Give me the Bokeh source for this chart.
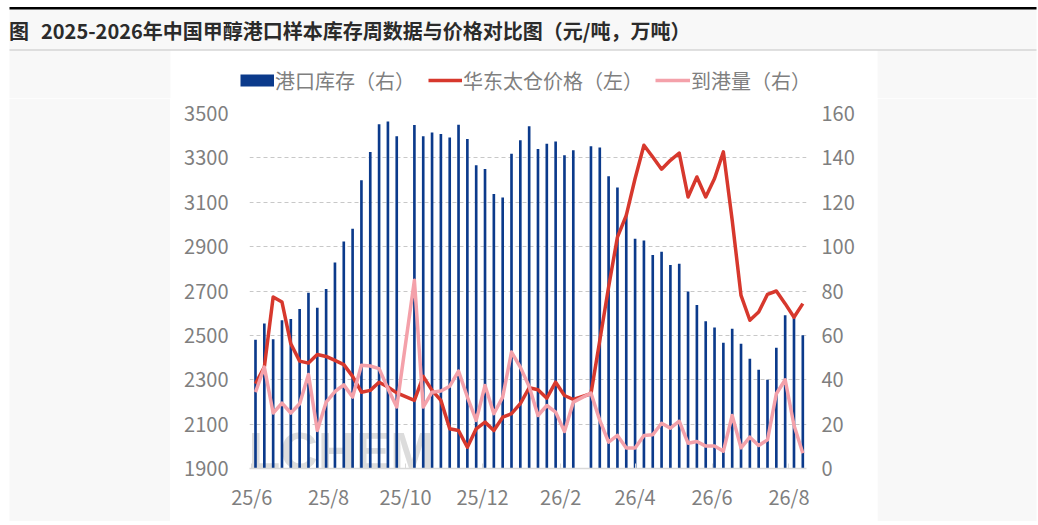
import pandas as pd
from bokeh.plotting import figure
from bokeh.models import (Range1d, LinearAxis, FixedTicker, Legend, LegendItem,
                          Label, ColumnDataSource)
from bokeh.layouts import column, row
from bokeh.embed import file_html
from bokeh.resources import INLINE
from bokeh.core.properties import value

# ---------------- data ----------------
title_prefix = "图"
title_text = "2025-2026年中国甲醇港口样本库存周数据与价格对比图（元/吨，万吨）"

first_week = "2025-06-04"
last_week = "2026-08-12"
holiday_weeks = ["2025-10-01", "2026-02-18"]  # no report in these weeks

# 港口库存（右, 万吨）
inventory = [58.0, 65.3, 58.3, 66.8, 67.4, 71.9, 79.2, 72.5, 80.9, 92.8, 102.3, 108.1,
             129.9, 142.7, 155.2, 156.4, 149.8,
             154.8, 149.8, 151.4, 150.8, 149.2, 154.9, 148.5, 136.7, 135.0, 123.7, 122.1,
             141.9, 147.9, 154.3, 144.0, 146.4, 147.4, 141.2, 143.4,
             145.2, 144.7, 131.7, 126.6, 114.9, 103.6, 102.8, 96.2, 97.7, 91.7, 92.3, 79.8,
             73.7, 66.4, 63.5, 56.7, 63.0, 56.2, 49.5, 44.5, 40.0, 54.4, 69.1, 68.2, 60.1]

# 华东太仓价格（左, 元/吨）
price = [2282, 2357, 2673, 2650, 2462, 2384, 2375, 2414, 2405, 2387, 2368, 2315,
         2244, 2252, 2289, 2267, 2241,
         2207, 2315, 2252, 2207, 2079, 2071, 1996, 2079, 2109, 2071, 2131,
         2147, 2192, 2264, 2255, 2217, 2289, 2229, 2211,
         2237, 2477, 2718, 2943, 3041, 3207, 3357, 3304, 3249, 3289, 3322, 3124,
         3214, 3124, 3207, 3327, 3019, 2680, 2568, 2605, 2685, 2700, 2643, 2582, 2643]

# 到港量（右, 万吨）
arrivals = [34.4, 45.7, 25.0, 29.5, 25.0, 29.2, 42.4, 17.1, 29.9, 34.7, 37.7, 32.2,
            46.5, 46.2, 45.0, 36.0, 27.7,
            84.8, 27.7, 34.4, 34.9, 37.1, 43.9, 32.2, 21.7, 37.4, 24.7, 32.2,
            52.5, 45.7, 37.0, 23.9, 28.4, 25.4, 16.7, 29.9,
            34.0, 21.7, 11.9, 14.9, 9.2, 9.2, 14.9, 15.2, 20.4, 18.2, 21.3, 11.4,
            12.2, 10.1, 10.1, 7.8, 23.9, 9.3, 14.1, 10.4, 12.9, 33.7, 40.0, 19.5, 6.9]

left_ticks = [1900, 2100, 2300, 2500, 2700, 2900, 3100, 3300, 3500]
right_ticks = [0, 20, 40, 60, 80, 100, 120, 140, 160]
month_ticks = ["2025-06-01", "2025-08-01", "2025-10-01", "2025-12-01",
               "2026-02-01", "2026-04-01", "2026-06-01", "2026-08-01"]
month_labels = ["25/6", "25/8", "25/10", "25/12", "26/2", "26/4", "26/6", "26/8"]

series_labels = ["港口库存（右）", "华东太仓价格（左）", "到港量（右）"]
watermark = "OILCHEM"

# ---------------- styling ----------------
BLUE = "#0b3a8b"
RED = "#d7382d"
PINK = "#f4a1aa"
GRAY_BG = "#f8f8f8"
TICK_GRAY = "#7f7f7f"
FONT = "Noto Sans CJK SC"

t0 = pd.Timestamp(first_week)
weeks = [d for d in pd.date_range(first_week, last_week, freq="7D")
         if d.strftime("%Y-%m-%d") not in holiday_weeks]
xdays = [(d - t0).days for d in weeks]
tick_days = [(pd.Timestamp(m) - t0).days for m in month_ticks]

src = ColumnDataSource(dict(x=xdays, inventory=inventory, price=price, arrivals=arrivals))


def canvas(w, h, color="white"):
    f = figure(width=w, height=h, x_range=Range1d(0, w), y_range=Range1d(h, 0),
               output_backend="svg", toolbar_location=None, title=None, min_border=0,
               x_axis_location=None, y_axis_location=None, outline_line_color=None,
               background_fill_color=color, border_fill_color=color)
    f.grid.visible = False
    return f


# ---- title band + legend strip (page y 0-98)
tfig = canvas(1038, 98)
tfig.quad(left=[9], right=[1036], top=[9], bottom=[98], color=GRAY_BG, line_width=0)
tfig.quad(left=[170], right=[877], top=[50], bottom=[98], color="white", line_width=0)
tfig.quad(left=[9], right=[1036], top=[6.5], bottom=[9], color="black", line_width=0)
tfig.quad(left=[9], right=[1036], top=[49], bottom=[50], color="#c4c4c4", line_width=0)
tfig.text(x=[8.5, 40.5], y=[29.5, 29.5], text=[title_prefix, title_text],
          text_font=value(FONT), text_font_size=value("20px"), text_font_style="bold",
          text_color="#2b2b2b", text_baseline="middle", text_align="left")

# legend keys (off-canvas sample lines used only for the legend swatches)
key_bar = tfig.line(x=[-60, -50], y=[-60, -60], line_width=12, line_color=BLUE)
key_red = tfig.line(x=[-60, -50], y=[-60, -60], line_width=3.5, line_color=RED)
key_pink = tfig.line(x=[-60, -50], y=[-60, -60], line_width=3.5, line_color=PINK)
for lab, rend, vx, gw in ((series_labels[0], key_bar, 240, 34),
                          (series_labels[1], key_red, 428, 34),
                          (series_labels[2], key_pink, 655, 35)):
    lg = Legend(items=[LegendItem(label=lab, renderers=[rend])], location=(vx, 2.7),
                orientation="horizontal", glyph_width=gw, glyph_height=30, label_height=30,
                label_standoff=1, padding=0, margin=0, spacing=0, border_line_color=None,
                background_fill_alpha=0, label_text_font=FONT, label_text_font_size="20px",
                label_text_color=TICK_GRAY)
    tfig.add_layout(lg)

# ---- side bands (page y 98-521)
lfig = canvas(170, 423)
lfig.quad(left=[9], right=[170], top=[0], bottom=[423], color=GRAY_BG, line_width=0)
rfig = canvas(161, 423)
rfig.quad(left=[0], right=[159], top=[0], bottom=[423], color=GRAY_BG, line_width=0)
bfig = canvas(1038, 4)
bfig.quad(left=[9], right=[1036], top=[0], bottom=[0.7], color=GRAY_BG, line_width=0)
bfig.quad(left=[9], right=[1036], top=[0.7], bottom=[3], color="black", line_width=0)

# ---- main chart (page x 170-877, y 98-521)
p = figure(width=707, height=423, x_range=Range1d(-4.76, 436.92),
           y_range=Range1d(left_ticks[0], left_ticks[-1]),
           output_backend="svg", toolbar_location=None, title=None,
           min_border_left=79, min_border_right=71, min_border_top=15, min_border_bottom=53,
           background_fill_color="white", border_fill_color="white", outline_line_color=None)
p.extra_y_ranges = {"right": Range1d(right_ticks[0], right_ticks[-1])}

p.xgrid.visible = False
p.ygrid.ticker = FixedTicker(ticks=left_ticks[1:])
p.ygrid.grid_line_color = "#c8c8c8"
p.ygrid.grid_line_dash = "4 3"
p.ygrid.grid_line_width = 1

yl = p.yaxis[0]
yl.ticker = FixedTicker(ticks=left_ticks)
yr = LinearAxis(y_range_name="right", ticker=FixedTicker(ticks=right_ticks))
p.add_layout(yr, "right")
for ax, so in ((yl, 21), (yr, 15)):
    ax.axis_line_color = None
    ax.major_tick_line_color = None
    ax.minor_tick_line_color = None
    ax.major_tick_in = 0
    ax.major_tick_out = 0
    ax.major_label_standoff = so
    ax.major_label_text_font = FONT
    ax.major_label_text_font_size = "20px"
    ax.major_label_text_color = TICK_GRAY

xa = p.xaxis[0]
xa.ticker = FixedTicker(ticks=tick_days)
xa.major_label_overrides = {d: lab for d, lab in zip(tick_days, month_labels)}
xa.axis_line_color = "#d9d9d9"
xa.axis_line_width = 1.5
xa.major_tick_line_color = "#d9d9d9"
xa.major_tick_in = 5
xa.major_tick_out = 0
xa.minor_tick_line_color = None
xa.major_label_standoff = 13
xa.major_label_text_font = FONT
xa.major_label_text_font_size = "20px"
xa.major_label_text_color = TICK_GRAY

p.add_layout(Label(x=-49, y=1846, text=watermark, text_font="Liberation Sans",
                   text_font_style="bold", text_font_size="52px", text_color="#dcdcdc",
                   level="underlay"))

p.vbar(x="x", top="inventory", bottom=0, width=2.1, source=src,
       y_range_name="right", color=BLUE, line_width=0)
p.line("x", "price", source=src, line_width=3.5, line_color=RED, line_join="round")
p.line("x", "arrivals", source=src, y_range_name="right", line_width=3.5,
       line_color=PINK, line_join="round")

layout = column(tfig, row(lfig, column(p), rfig), bfig)
open("out.html", "w").write(file_html(layout, INLINE))
